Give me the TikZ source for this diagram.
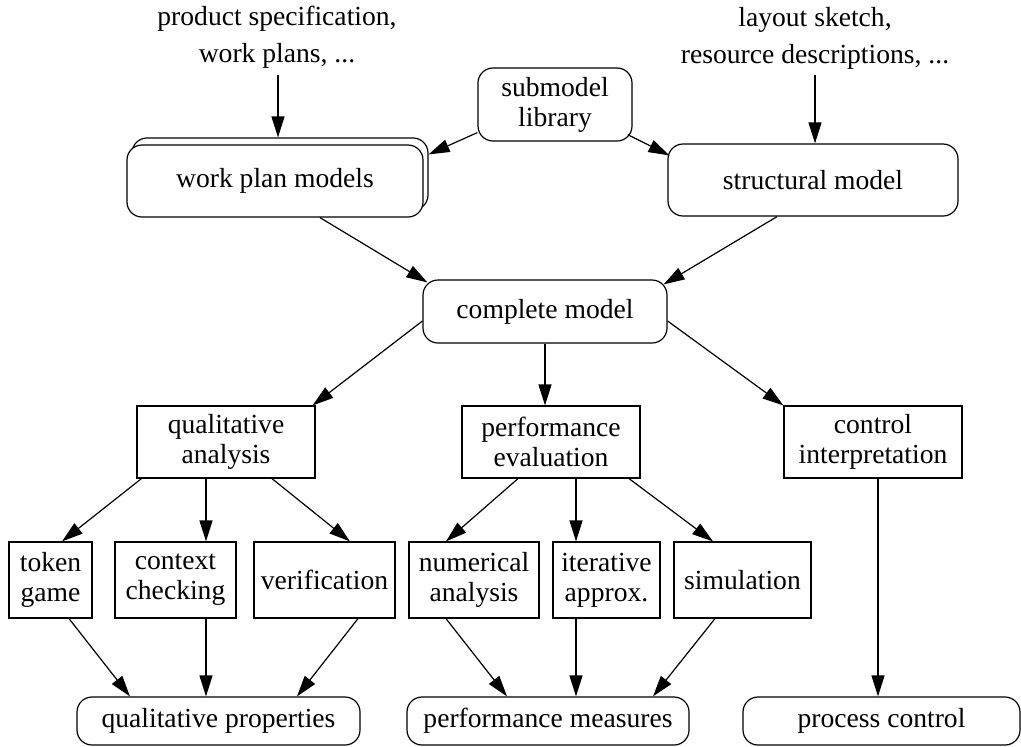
\documentclass[tikz,border=0pt]{standalone}
\usepackage{fontspec}
\setmainfont{Liberation Serif}
\usetikzlibrary{arrows.meta}

\begin{document}
\begin{tikzpicture}
	[x=0.5pt, y=-0.5pt,
	box/.style={draw, line width=0.6pt, inner sep=0pt, align=center, fill=white,
		font=\fontsize{13.8}{15}\selectfont},
	rbox/.style={box, rounded corners=7.5pt},
	note/.style={align=center, inner sep=3pt, font=\fontsize{13.8}{18.5}\selectfont},
	arr/.style={-{Triangle[length=10.5pt,width=6.5pt]}, line width=0.6pt}]

	\useasboundingbox (0,0) rectangle (1021,746);

	% Inputs
	\node[note] (prod) at (277,37) {product specification,\\work plans, ...};
	\node[note] (layout) at (815,38) {layout sketch,\\resource descriptions, ...};

	% Model building
	\node[rbox, minimum width=77pt, minimum height=36.5pt] (lib) at (555,104.5) {submodel\\library};
	\node[rbox, minimum width=148pt, minimum height=36pt] (wpmb) at (280,174) {};
	\node[rbox, minimum width=148pt, minimum height=36pt] (wpm) at (275,181) {work plan models};
	\node[rbox, minimum width=145pt, minimum height=36pt] (struct) at (813,180) {structural model};
	\node[rbox, minimum width=122pt, minimum height=31.5pt] (cm) at (545,311.5) {complete model};

	% Analysis
	\node[box, minimum width=89pt, minimum height=36pt] (qa) at (226,442) {qualitative\\analysis};
	\node[box, minimum width=89pt, minimum height=36pt] (pe) at (551,442) {performance\\evaluation};
	\node[box, minimum width=89pt, minimum height=36pt] (ci) at (873,442) {control\\interpretation};

	\node[box, minimum width=41.5pt, minimum height=38pt] (tg) at (50.5,580) {token\\game};
	\node[box, minimum width=60.5pt, minimum height=38pt] (cc) at (175.5,580) {context\\checking};
	\node[box, minimum width=70.5pt, minimum height=38pt] (ver) at (324.5,580) {verification};
	\node[box, minimum width=65pt, minimum height=38pt] (na) at (474,580) {numerical\\analysis};
	\node[box, minimum width=53.5pt, minimum height=38pt] (ia) at (606.5,580) {iterative\\approx.};
	\node[box, minimum width=68.5pt, minimum height=38pt] (sim) at (742.5,580) {simulation};

	% Results
	\node[rbox, minimum width=141.5pt, minimum height=24pt] (qp) at (218.5,721) {qualitative properties};
	\node[rbox, minimum width=141pt, minimum height=24pt] (pm) at (548,721) {performance measures};
	\node[rbox, minimum width=138.5pt, minimum height=24pt] (pc) at (881.5,721) {process control};

	% Connectors, top part
	\draw[arr] ([xshift=0.5pt]prod.south) coordinate (t1) -- (t1 |- wpmb.north);
	\draw[arr] (layout.south) -- (layout.south |- struct.north);
	\draw[arr] ([yshift=4.5pt]lib.south west) -- ([yshift=-8.5pt]wpmb.north east);
	\draw[arr] ([xshift=-2.5pt,yshift=3.5pt]lib.south east) -- ([xshift=1pt,yshift=-6pt]struct.north west);
	\draw[arr] ([xshift=22.5pt]wpm.south) -- ([xshift=2.5pt,yshift=-1.5pt]cm.north west);
	\draw[arr] ([xshift=-18pt]struct.south) -- ([xshift=-2pt,yshift=-2.5pt]cm.north east);

	% Connectors, middle part
	\draw[arr] ([yshift=-4.75pt]cm.west) -- ([xshift=-1.5pt]qa.north east);
	\draw[arr] (cm.south) -- (cm.south |- pe.north);
	\draw[arr] ([yshift=-4.75pt]cm.east) -- (ci.north west);

	\draw[arr] ([xshift=2.5pt]qa.south west) -- ([xshift=5.75pt]tg.north);
	\draw[arr] ([xshift=-10pt]qa.south) coordinate (t2) -- (t2 |- cc.north);
	\draw[arr] ([xshift=23pt]qa.south) -- ([xshift=12.75pt]ver.north);
	\draw[arr] ([xshift=-16.5pt]pe.south) -- ([xshift=-14pt]na.north);
	\draw[arr] ([xshift=12.5pt]pe.south) coordinate (t3) -- (t3 |- ia.north);
	\draw[arr] ([xshift=39pt]pe.south) -- ([xshift=-14.75pt]sim.north);

	% Connectors, bottom part
	\draw[arr] ([xshift=9.25pt]tg.south) -- ([xshift=-44.25pt]qp.north);
	\draw[arr] ([xshift=15.25pt]cc.south) coordinate (t4) -- (t4 |- qp.north);
	\draw[arr] ([xshift=16.75pt]ver.south) -- ([xshift=39.25pt]qp.north);
	\draw[arr] ([xshift=-14pt]na.south) -- ([xshift=-20.5pt]pm.north);
	\draw[arr] ([xshift=-15.25pt]ia.south) coordinate (t5) -- (t5 |- pm.north);
	\draw[arr] ([xshift=-13.75pt]sim.south) -- ([xshift=52.5pt]pm.north);
	\draw[arr] ([xshift=2.5pt]ci.south) coordinate (t6) -- (t6 |- pc.north);

\end{tikzpicture}
\end{document}
